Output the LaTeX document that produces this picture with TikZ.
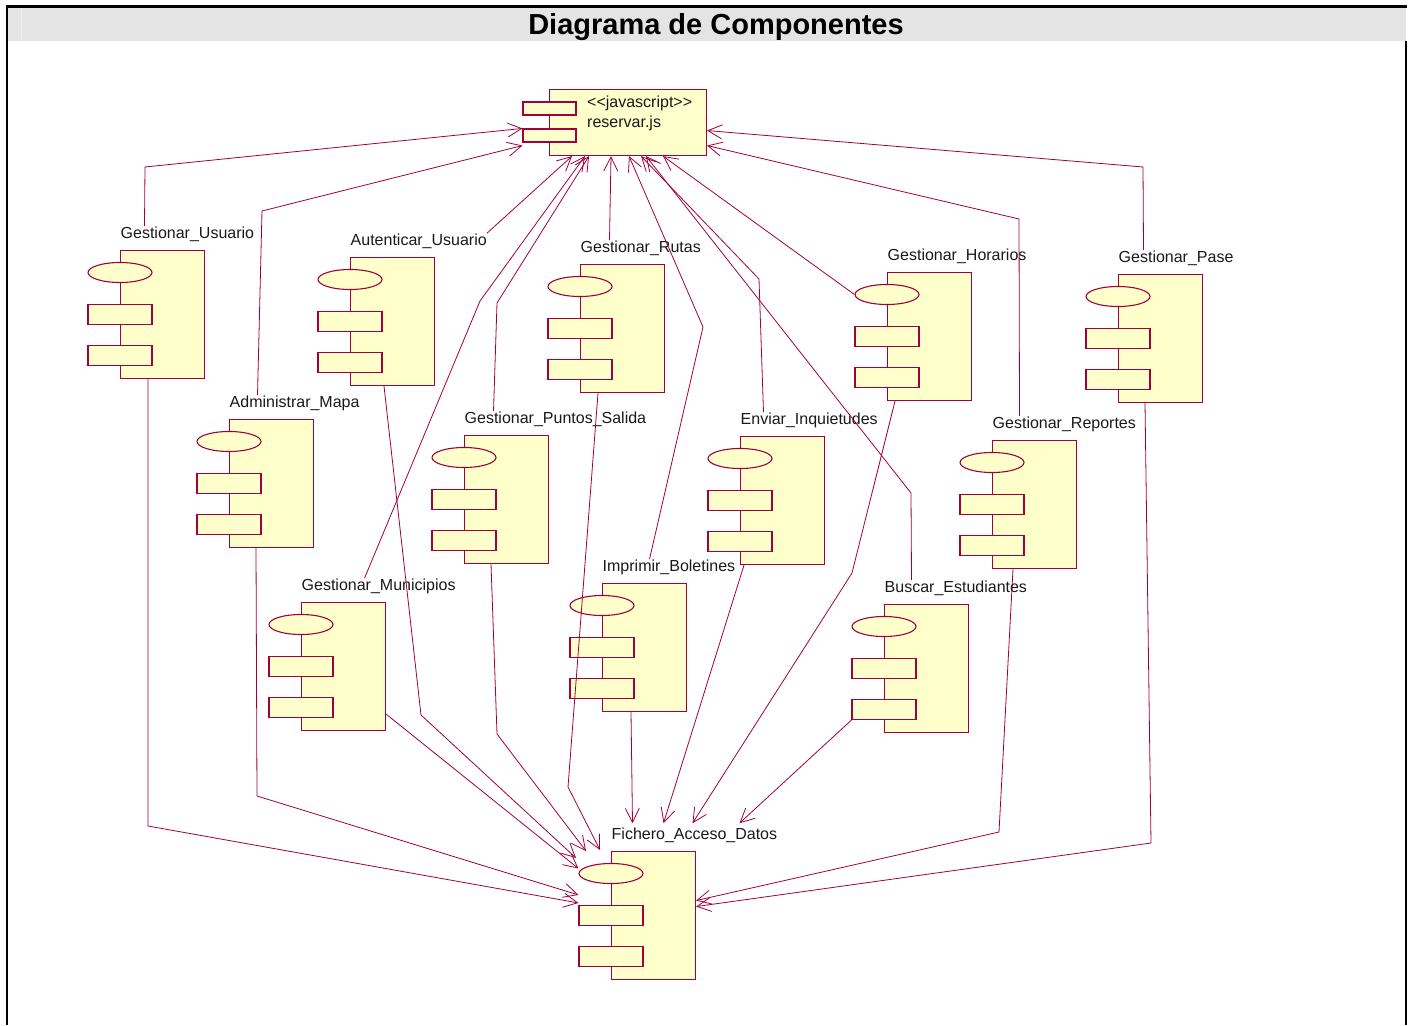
\documentclass[tikz,border=0pt]{standalone}
\usepackage{fontspec}
\setmainfont{Liberation Sans}
\usetikzlibrary{arrows.meta,shapes.geometric}

\definecolor{rosered}{RGB}{160,0,60}
\definecolor{rosefill}{RGB}{255,255,204}
\definecolor{bandgray}{RGB}{228,228,228}

\tikzset{
  cbody/.style={draw=rosered, fill=rosefill, line width=1.1pt, rectangle,
    minimum width=84pt, minimum height=128pt, inner sep=0pt, anchor=north west},
  ctab/.style={draw=rosered, fill=rosefill, line width=1.1pt, rectangle,
    minimum width=64pt, minimum height=20pt, inner sep=0pt},
  cport/.style={draw=rosered, fill=rosefill, line width=1.1pt, ellipse,
    minimum width=64pt, minimum height=20pt, inner sep=0pt},
  clabel/.style={font=\fontsize{16}{19}\selectfont, text=black!90,
    inner sep=0pt, anchor=base west},
  dep/.style={draw=rosered, line width=0.8pt,
    -{Straight Barb[length=14pt,width=14pt]}},
}

% component: body, interface ellipse, two tabs and the name above
\newcommand\umlcomp[4]{%
  \node[cbody] (#1) at (#2,#3) {};
  \node[cport] (#1-e) at (#2,#3+22.5) {};
  \node[ctab] (#1-r1) at (#2,#3+64.5) {};
  \node[ctab] (#1-r2) at (#2,#3+105.5) {};
  \node[clabel] (#1-l) at (#2+0.5,#3-12) {#4};
}

\begin{document}
\begin{tikzpicture}[x=1pt,y=-1pt]
\useasboundingbox (0,0) rectangle (1413,1025);

% title band and frame
\fill[bandgray] (8,8) rectangle (1406,41);
\draw[black!6, line width=1pt] (21,8) -- (21,41);
\node[font=\bfseries\fontsize{29}{34}\selectfont, anchor=base, inner sep=0pt]
  (title) at (716,35) {Diagrama de Componentes};
\draw[line width=3pt] (6,7) -- (1407,7);
\draw[line width=2.5pt] (7,6) -- (7,1025);
\draw[line width=2.5pt] (1406,41) -- (1406,1025);

% script component
\node[draw=rosered, fill=rosefill, line width=1.1pt, minimum width=157pt,
  minimum height=66pt, inner sep=0pt, anchor=north west] (js) at (549,89) {};
\node[ctab, minimum width=53pt, minimum height=13pt] (js1) at (549.5,108.5) {};
\node[ctab, minimum width=53pt, minimum height=13pt] (js2) at (549.5,135.5) {};
\node[clabel] (js-st) at (587,107) {<{}<javascript>{}>};
\node[clabel] (js-n) at (587,127) {reservar.js};

% components
\umlcomp{usr}{120}{250}{Gestionar\_Usuario}
\umlcomp{aut}{350}{257}{Autenticar\_Usuario}
\umlcomp{rut}{580}{264}{Gestionar\_Rutas}
\umlcomp{hor}{887}{272}{Gestionar\_Horarios}
\umlcomp{pas}{1118}{274}{Gestionar\_Pase}
\umlcomp{map}{229}{419}{Administrar\_Mapa}
\umlcomp{pun}{464}{435}{Gestionar\_Puntos\_Salida}
\umlcomp{env}{740}{436}{Enviar\_Inquietudes}
\umlcomp{rep}{992}{440}{Gestionar\_Reportes}
\umlcomp{mun}{301}{602}{Gestionar\_Municipios}
\umlcomp{imp}{602}{583}{Imprimir\_Boletines}
\umlcomp{bus}{884}{604}{Buscar\_Estudiantes}
\umlcomp{fad}{611}{851}{Fichero\_Acceso\_Datos}

% dependencies on reservar.js
\draw[dep] ([xshift=24pt]usr-l.north west) -- (145,167) -- (js2.north west);
\draw[dep] ([xshift=28pt]map-l.north west) -- (262,211) -- ([yshift=-3pt]js2.south west);
\draw[dep] (aut-l.north east) -- ([xshift=23pt]js.south west);
\draw[dep] ([xshift=63pt]mun-l.north west) -- (480,301) -- ([xshift=36pt]js.south west);
\draw[dep] ([xshift=29pt]pun-l.north west) -- (497,303) -- ([xshift=40pt]js.south west);
\draw[dep] ([xshift=29pt]rut-l.north west) -- ([xshift=62pt]js.south west);
\draw[dep] ([xshift=47pt]imp-l.north west) -- (703,327) -- ([xshift=80pt]js.south west);
\draw[dep] ([xshift=23pt]env-l.north west) -- (759,279) -- ([xshift=92pt]js.south west);
\draw[dep] ([xshift=27pt]bus-l.north west) -- (911,493) -- ([xshift=97pt]js.south west);
\draw[dep] (hor-e.west) -- ([xshift=114pt]js.south west);
\draw[dep] ([xshift=27pt]rep-l.north west) -- (1019,219) -- ([yshift=-23pt]js.east);
\draw[dep] ([xshift=25pt]pas-l.north west) -- (1143,167) -- ([yshift=-8pt]js.east);

% dependencies on Fichero_Acceso_Datos
\draw[dep] ([xshift=28pt]usr.south west) -- (148,826) -- ([yshift=2pt]fad-r1.north west);
\draw[dep] ([xshift=27pt]map.south west) -- (257,796) -- ([yshift=10pt]fad-r1.north west);
\draw[dep] ([xshift=34pt]aut.south west) -- (421,715) -- ([xshift=-35pt,yshift=-7pt]fad.north west);
\draw[dep] ([yshift=17pt]mun.south east) -- ([yshift=5pt]fad-e.west);
\draw[dep] ([xshift=27pt]pun.south west) -- (497,734) -- ([xshift=-25pt]fad.north west);
\draw[dep] ([xshift=18pt]rut.south west) -- (568,787) -- ([xshift=-11pt,yshift=1pt]fad.north west);
\draw[dep] ([xshift=29pt]imp.south west) -- ([xshift=21pt,yshift=4pt]fad-l.north west);
\draw[dep] ([xshift=4pt]env.south west) -- ([xshift=52pt,yshift=4pt]fad-l.north west);
\draw[dep] ([xshift=8pt]hor.south west) -- (852,573) -- ([xshift=81pt,yshift=4pt]fad-l.north west);
\draw[dep] (bus-r2.south west) -- ([xshift=128pt,yshift=4pt]fad-l.north west);
\draw[dep] ([xshift=21pt]rep.south west) -- (999,832) -- ([yshift=15pt]fad.east);
\draw[dep] ([xshift=27pt]pas.south west) -- (1151,843) -- ([yshift=9pt]fad.east);
\end{tikzpicture}
\end{document}
